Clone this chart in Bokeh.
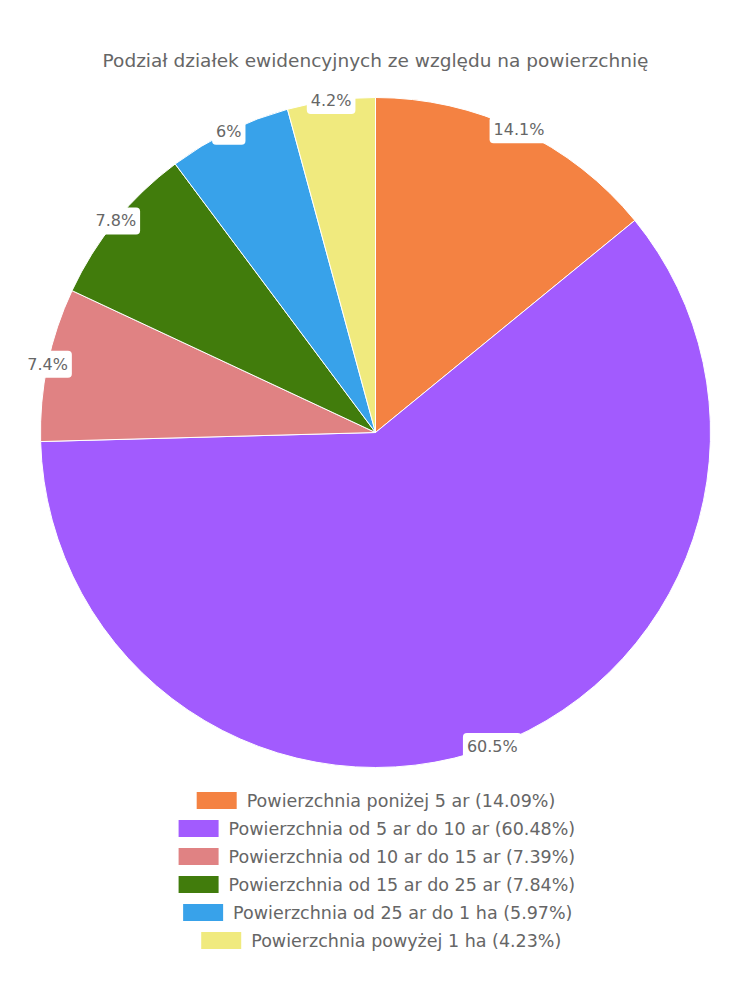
import math
from bokeh.plotting import figure
from bokeh.models import Range1d, ColumnDataSource
from bokeh.core.properties import value
from bokeh.embed import file_html
from bokeh.resources import INLINE

title = "Podział działek ewidencyjnych ze względu na powierzchnię"
categories = [
    "Powierzchnia poniżej 5 ar",
    "Powierzchnia od 5 ar do 10 ar",
    "Powierzchnia od 10 ar do 15 ar",
    "Powierzchnia od 15 ar do 25 ar",
    "Powierzchnia od 25 ar do 1 ha",
    "Powierzchnia powyżej 1 ha",
]
shares = [14.09, 60.48, 7.39, 7.84, 5.97, 4.23]
colors = ["#F48242", "#A25BFE", "#E08283", "#417C0C", "#38A2EA", "#F0EA7E"]

FONT = "DejaVu Sans"
GREY = "#666666"
W, H = 750, 1000
CX, CY, R = 375, H - 432, 335

p = figure(width=W, height=H, output_backend="svg", toolbar_location=None,
           x_range=Range1d(0, W), y_range=Range1d(0, H), min_border=0)
p.axis.visible = False
p.grid.visible = False
p.outline_line_color = None
p.background_fill_color = "white"

total = sum(shares)
starts, ends, mids = [], [], []
acc = 0.0
for v in shares:
    a0 = acc / total * 2 * math.pi
    acc += v
    a1 = acc / total * 2 * math.pi
    starts.append(math.pi / 2 - a0)
    ends.append(math.pi / 2 - a1)
    mids.append((a0 + a1) / 2)

src = ColumnDataSource(dict(start=starts, end=ends, color=colors,
                            x=[CX] * len(shares), y=[CY] * len(shares)))
p.wedge(x="x", y="y", radius=R, radius_units="screen", start_angle="start",
        end_angle="end", direction="clock", fill_color="color",
        line_color="white", line_width=1, source=src)

# slice labels on the rim
lx = [CX + R * math.sin(m) for m in mids]
ly = [CY + R * math.cos(m) for m in mids]
labels = [f"{round(v, 1):g}%" for v in shares]
p.text(x=lx, y=ly, text=labels, text_align="center", text_baseline="middle",
       text_font=value(FONT), text_font_size="16px", text_color=GREY,
       background_fill_color="white", border_radius=4, padding=4)

# title
p.text(x=[W / 2], y=[H - 60], text=[title], text_align="center",
       text_baseline="middle", text_font=value(FONT), text_font_size="18.5px",
       text_color=GREY)

# legend, each row centred
FS = 17.5
CW = 0.517 * FS
SW, SH, GAP = 40, 17, 10
for i, (cat, v, c) in enumerate(zip(categories, shares, colors)):
    lab = f"{cat} ({v:.2f}%)"
    tw = len(lab) * CW
    x0 = W / 2 - (SW + GAP + tw) / 2
    yy = H - (800 + 28 * i)
    p.rect(x=[x0 + SW / 2], y=[yy], width=SW, height=SH, fill_color=c,
           line_color=None)
    p.text(x=[x0 + SW + GAP], y=[yy], text=[lab], text_align="left",
           text_baseline="middle", text_font=value(FONT),
           text_font_size=f"{FS}px", text_color=GREY)

open("out.html", "w").write(file_html(p, INLINE))
